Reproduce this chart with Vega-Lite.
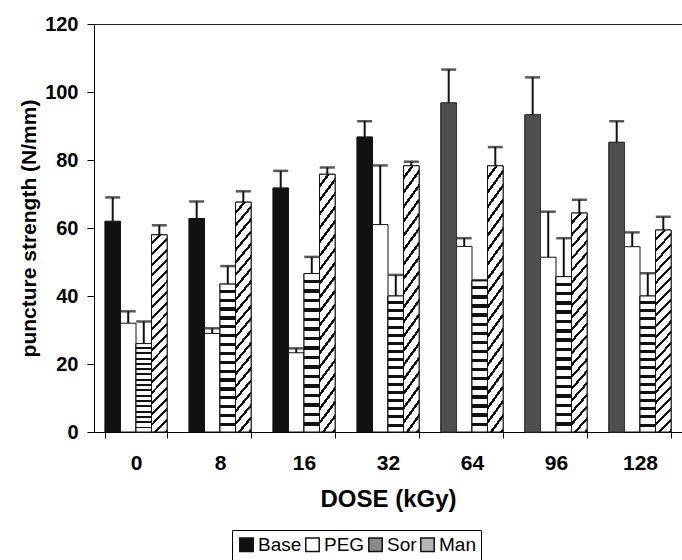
{
  "$schema": "https://vega.github.io/schema/vega-lite/v6.json",
  "width": 588,
  "height": 408,
  "autosize": {"type": "none"},
  "padding": {"left": 94, "top": 24, "right": 0, "bottom": 128},
  "config": {
    "view": {"stroke": null},
    "font": "Liberation Sans",
    "axis": {"domainColor": "black", "tickColor": "black", "labelColor": "black", "titleColor": "black", "grid": false, "labelFontWeight": "bold", "titleFontWeight": "bold", "labelFont": "Liberation Sans", "titleFont": "Liberation Sans"},
    "legend": {"labelFont": "Liberation Sans"}
  },
  "data": {
    "values": [
      {"dose": "0", "series": "Base", "value": 62, "err": 69},
      {"dose": "0", "series": "PEG", "value": 32, "err": 35.5},
      {"dose": "0", "series": "Sor", "value": 26, "err": 32.5},
      {"dose": "0", "series": "Man", "value": 58, "err": 60.8},
      {"dose": "8", "series": "Base", "value": 62.8, "err": 67.8},
      {"dose": "8", "series": "PEG", "value": 29, "err": 30.5},
      {"dose": "8", "series": "Sor", "value": 43.5, "err": 48.8},
      {"dose": "8", "series": "Man", "value": 67.6, "err": 70.8},
      {"dose": "16", "series": "Base", "value": 71.8, "err": 76.8},
      {"dose": "16", "series": "PEG", "value": 23.3, "err": 24.6},
      {"dose": "16", "series": "Sor", "value": 46.6, "err": 51.5},
      {"dose": "16", "series": "Man", "value": 75.8, "err": 77.8},
      {"dose": "32", "series": "Base", "value": 86.8, "err": 91.4},
      {"dose": "32", "series": "PEG", "value": 61, "err": 78.4},
      {"dose": "32", "series": "Sor", "value": 40, "err": 46.2},
      {"dose": "32", "series": "Man", "value": 78.3, "err": 79.5},
      {"dose": "64", "series": "Base", "value": 96.8, "err": 106.6},
      {"dose": "64", "series": "PEG", "value": 54.6, "err": 57},
      {"dose": "64", "series": "Sor", "value": 44.6, "err": 44.6},
      {"dose": "64", "series": "Man", "value": 78.3, "err": 83.8},
      {"dose": "96", "series": "Base", "value": 93.3, "err": 104.3},
      {"dose": "96", "series": "PEG", "value": 51.4, "err": 64.8},
      {"dose": "96", "series": "Sor", "value": 45.7, "err": 57},
      {"dose": "96", "series": "Man", "value": 64.4, "err": 68.3},
      {"dose": "128", "series": "Base", "value": 85.2, "err": 91.4},
      {"dose": "128", "series": "PEG", "value": 54.5, "err": 58.7},
      {"dose": "128", "series": "Sor", "value": 40, "err": 46.7},
      {"dose": "128", "series": "Man", "value": 59.4, "err": 63.3}
    ]
  },
  "resolve": {"axis": {"x": "independent"}},
  "layer": [
    {
      "mark": {"type": "bar", "stroke": "#111", "strokeWidth": 1},
      "encoding": {
        "x": {"field": "dose", "type": "nominal", "sort": ["0", "8", "16", "32", "64", "96", "128"], "scale": {"paddingInner": 0.26, "paddingOuter": 0.13},
          "axis": {"title": "DOSE (kGy)", "labelAngle": 0, "labelFontSize": 21, "titleFontSize": 24, "tickBand": "extent", "tickSize": 6, "labelPadding": 14, "titlePadding": 14}},
        "xOffset": {"field": "series", "sort": ["Base", "PEG", "Sor", "Man"], "scale": {"paddingInner": 0, "paddingOuter": 0}},
        "y": {"field": "value", "type": "quantitative", "title": "puncture strength (N/mm)", "scale": {"domain": [0, 120], "nice": false},
          "axis": {"values": [0, 20, 40, 60, 80, 100, 120], "labelFontSize": 20, "titleFontSize": 21, "tickSize": 7, "labelPadding": 9, "titlePadding": 5}},
        "color": {"field": "series", "type": "nominal", "sort": ["Base", "PEG", "Sor", "Man"],
          "scale": {"domain": ["Base", "PEG", "Sor", "Man"], "range": ["#111111", "#ffffff", "#8a8a8a", "#b5b5b5"]},
          "legend": {"orient": "none", "legendX": 138, "legendY": 506, "direction": "horizontal", "title": null, "strokeColor": "black", "padding": 5, "labelFontSize": 19, "labelColor": "black", "symbolType": "square", "symbolSize": 180, "symbolStrokeColor": "black", "symbolStrokeWidth": 1.5, "columnPadding": 0, "labelOffset": 2,
            "encode": {"symbols": {"update": {
              "stroke": {"value": "#111111"},
              "strokeWidth": {"value": 1.5}
            }}}}
        }
      }
    },
    {
      "transform": [{"filter": "datum.series === 'Base' && (datum.dose === '64' || datum.dose === '96' || datum.dose === '128')"}],
      "mark": {"type": "bar", "fill": "#4f4f4f", "stroke": "#333", "strokeWidth": 1},
      "encoding": {
        "x": {"field": "dose", "type": "nominal", "sort": ["0", "8", "16", "32", "64", "96", "128"], "axis": null},
        "xOffset": {"field": "series", "sort": ["Base", "PEG", "Sor", "Man"]},
        "y": {"field": "value", "type": "quantitative", "title": "puncture strength (N/mm)"}
      }
    },
    {
      "transform": [{"filter": "datum.series === 'Sor'"}],
      "mark": {"type": "bar", "stroke": "#111", "strokeWidth": 1,
        "fill": {"gradient": "linear", "x1": 0, "y1": 0, "x2": 0, "y2": 1, "stops": [
          {"offset": 0, "color": "white"}, {"offset": 0.038, "color": "white"}, {"offset": 0.038, "color": "#111"}, {"offset": 0.06, "color": "#111"},
          {"offset": 0.06, "color": "white"}, {"offset": 0.098, "color": "white"}, {"offset": 0.098, "color": "#111"}, {"offset": 0.12, "color": "#111"},
          {"offset": 0.12, "color": "white"}, {"offset": 0.158, "color": "white"}, {"offset": 0.158, "color": "#111"}, {"offset": 0.18, "color": "#111"},
          {"offset": 0.18, "color": "white"}, {"offset": 0.218, "color": "white"}, {"offset": 0.218, "color": "#111"}, {"offset": 0.24, "color": "#111"},
          {"offset": 0.24, "color": "white"}, {"offset": 0.278, "color": "white"}, {"offset": 0.278, "color": "#111"}, {"offset": 0.30, "color": "#111"},
          {"offset": 0.30, "color": "white"}, {"offset": 0.338, "color": "white"}, {"offset": 0.338, "color": "#111"}, {"offset": 0.36, "color": "#111"},
          {"offset": 0.36, "color": "white"}, {"offset": 0.398, "color": "white"}, {"offset": 0.398, "color": "#111"}, {"offset": 0.42, "color": "#111"},
          {"offset": 0.42, "color": "white"}, {"offset": 0.458, "color": "white"}, {"offset": 0.458, "color": "#111"}, {"offset": 0.48, "color": "#111"},
          {"offset": 0.48, "color": "white"}, {"offset": 0.518, "color": "white"}, {"offset": 0.518, "color": "#111"}, {"offset": 0.54, "color": "#111"},
          {"offset": 0.54, "color": "white"}, {"offset": 0.578, "color": "white"}, {"offset": 0.578, "color": "#111"}, {"offset": 0.60, "color": "#111"},
          {"offset": 0.60, "color": "white"}, {"offset": 0.638, "color": "white"}, {"offset": 0.638, "color": "#111"}, {"offset": 0.66, "color": "#111"},
          {"offset": 0.66, "color": "white"}, {"offset": 0.698, "color": "white"}, {"offset": 0.698, "color": "#111"}, {"offset": 0.72, "color": "#111"},
          {"offset": 0.72, "color": "white"}, {"offset": 0.758, "color": "white"}, {"offset": 0.758, "color": "#111"}, {"offset": 0.78, "color": "#111"},
          {"offset": 0.78, "color": "white"}, {"offset": 0.818, "color": "white"}, {"offset": 0.818, "color": "#111"}, {"offset": 0.84, "color": "#111"},
          {"offset": 0.84, "color": "white"}, {"offset": 0.878, "color": "white"}, {"offset": 0.878, "color": "#111"}, {"offset": 0.90, "color": "#111"},
          {"offset": 0.90, "color": "white"}, {"offset": 0.938, "color": "white"}, {"offset": 0.938, "color": "#111"}, {"offset": 0.96, "color": "#111"},
          {"offset": 0.96, "color": "white"}, {"offset": 0.998, "color": "white"}, {"offset": 0.998, "color": "#111"}, {"offset": 1, "color": "#111"}
        ]}},
      "encoding": {
        "x": {"field": "dose", "type": "nominal", "sort": ["0", "8", "16", "32", "64", "96", "128"], "axis": null},
        "xOffset": {"field": "series", "sort": ["Base", "PEG", "Sor", "Man"]},
        "y": {"field": "value", "type": "quantitative", "title": "puncture strength (N/mm)"}
      }
    },
    {
      "transform": [{"filter": "datum.series === 'Man'"}],
      "mark": {"type": "bar", "stroke": "#111", "strokeWidth": 1,
        "fill": {"gradient": "linear", "x1": 0, "y1": 0, "x2": 0.086, "y2": 1.073, "stops": [
          {"offset": 0, "color": "white"}, {"offset": 0.036, "color": "white"}, {"offset": 0.036, "color": "#111"}, {"offset": 0.05, "color": "#111"},
          {"offset": 0.05, "color": "white"}, {"offset": 0.086, "color": "white"}, {"offset": 0.086, "color": "#111"}, {"offset": 0.10, "color": "#111"},
          {"offset": 0.10, "color": "white"}, {"offset": 0.136, "color": "white"}, {"offset": 0.136, "color": "#111"}, {"offset": 0.15, "color": "#111"},
          {"offset": 0.15, "color": "white"}, {"offset": 0.186, "color": "white"}, {"offset": 0.186, "color": "#111"}, {"offset": 0.20, "color": "#111"},
          {"offset": 0.20, "color": "white"}, {"offset": 0.236, "color": "white"}, {"offset": 0.236, "color": "#111"}, {"offset": 0.25, "color": "#111"},
          {"offset": 0.25, "color": "white"}, {"offset": 0.286, "color": "white"}, {"offset": 0.286, "color": "#111"}, {"offset": 0.30, "color": "#111"},
          {"offset": 0.30, "color": "white"}, {"offset": 0.336, "color": "white"}, {"offset": 0.336, "color": "#111"}, {"offset": 0.35, "color": "#111"},
          {"offset": 0.35, "color": "white"}, {"offset": 0.386, "color": "white"}, {"offset": 0.386, "color": "#111"}, {"offset": 0.40, "color": "#111"},
          {"offset": 0.40, "color": "white"}, {"offset": 0.436, "color": "white"}, {"offset": 0.436, "color": "#111"}, {"offset": 0.45, "color": "#111"},
          {"offset": 0.45, "color": "white"}, {"offset": 0.486, "color": "white"}, {"offset": 0.486, "color": "#111"}, {"offset": 0.50, "color": "#111"},
          {"offset": 0.50, "color": "white"}, {"offset": 0.536, "color": "white"}, {"offset": 0.536, "color": "#111"}, {"offset": 0.55, "color": "#111"},
          {"offset": 0.55, "color": "white"}, {"offset": 0.586, "color": "white"}, {"offset": 0.586, "color": "#111"}, {"offset": 0.60, "color": "#111"},
          {"offset": 0.60, "color": "white"}, {"offset": 0.636, "color": "white"}, {"offset": 0.636, "color": "#111"}, {"offset": 0.65, "color": "#111"},
          {"offset": 0.65, "color": "white"}, {"offset": 0.686, "color": "white"}, {"offset": 0.686, "color": "#111"}, {"offset": 0.70, "color": "#111"},
          {"offset": 0.70, "color": "white"}, {"offset": 0.736, "color": "white"}, {"offset": 0.736, "color": "#111"}, {"offset": 0.75, "color": "#111"},
          {"offset": 0.75, "color": "white"}, {"offset": 0.786, "color": "white"}, {"offset": 0.786, "color": "#111"}, {"offset": 0.80, "color": "#111"},
          {"offset": 0.80, "color": "white"}, {"offset": 0.836, "color": "white"}, {"offset": 0.836, "color": "#111"}, {"offset": 0.85, "color": "#111"},
          {"offset": 0.85, "color": "white"}, {"offset": 0.886, "color": "white"}, {"offset": 0.886, "color": "#111"}, {"offset": 0.90, "color": "#111"},
          {"offset": 0.90, "color": "white"}, {"offset": 0.936, "color": "white"}, {"offset": 0.936, "color": "#111"}, {"offset": 0.95, "color": "#111"},
          {"offset": 0.95, "color": "white"}, {"offset": 0.986, "color": "white"}, {"offset": 0.986, "color": "#111"}, {"offset": 1, "color": "#111"}
        ]}},
      "encoding": {
        "x": {"field": "dose", "type": "nominal", "sort": ["0", "8", "16", "32", "64", "96", "128"], "axis": null},
        "xOffset": {"field": "series", "sort": ["Base", "PEG", "Sor", "Man"]},
        "y": {"field": "value", "type": "quantitative", "title": "puncture strength (N/mm)"}
      }
    },
    {
      "mark": {"type": "rule", "color": "#111", "strokeWidth": 2},
      "encoding": {
        "x": {"field": "dose", "type": "nominal", "sort": ["0", "8", "16", "32", "64", "96", "128"], "axis": null},
        "xOffset": {"field": "series", "sort": ["Base", "PEG", "Sor", "Man"]},
        "y": {"field": "value", "type": "quantitative", "title": "puncture strength (N/mm)"},
        "y2": {"field": "err"}
      }
    },
    {
      "mark": {"type": "tick", "color": "#111", "thickness": 2.5, "size": 15},
      "encoding": {
        "x": {"field": "dose", "type": "nominal", "sort": ["0", "8", "16", "32", "64", "96", "128"], "axis": null},
        "xOffset": {"field": "series", "sort": ["Base", "PEG", "Sor", "Man"]},
        "y": {"field": "err", "type": "quantitative", "title": "puncture strength (N/mm)"}
      }
    },
    {
      "mark": {"type": "tick", "opacity": 0},
      "encoding": {
        "x": {"field": "dose", "type": "nominal", "sort": ["0", "8", "16", "32", "64", "96", "128"],
          "axis": {"orient": "top", "labels": false, "ticks": false, "title": null, "domain": true, "domainColor": "#222"}},
        "y": {"field": "err", "type": "quantitative", "title": "puncture strength (N/mm)"}
      }
    }
  ]
}
